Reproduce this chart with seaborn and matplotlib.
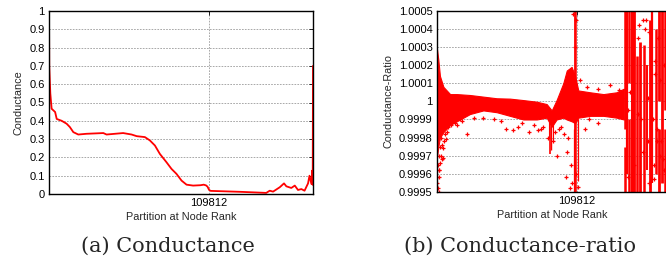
import numpy as np
import pandas as pd
import matplotlib
matplotlib.use('Agg')
import matplotlib.pyplot as plt
import seaborn as sns

# ---- data ----
N_TOTAL = 181200
TICK_RANK = 109812

# (a) conductance curve
cond_rank = [0, 180, 900, 1800, 4200, 5300, 8700, 12100, 14300, 16700, 20100, 25700,
             37300, 39500, 50900, 56700, 60200, 65800, 69200, 72700, 76100, 80600,
             84100, 87500, 91000, 94400, 98900, 104000, 106200, 107800, 108800, 109900,
             111000, 131000, 149100, 151500, 153800, 158400, 161300, 162900, 166300,
             168700, 170900, 173200, 175400, 177800, 178800, 180100, 180700, 181000, 181200]
cond_val = [1.0, 0.695, 0.55, 0.466, 0.448, 0.41, 0.40, 0.384, 0.366, 0.338, 0.325, 0.329,
            0.333, 0.325, 0.333, 0.325, 0.316, 0.311, 0.293, 0.265, 0.219, 0.174,
            0.137, 0.11, 0.073, 0.051, 0.046, 0.048, 0.051, 0.047, 0.04, 0.022,
            0.017, 0.012, 0.006, 0.018, 0.013, 0.037, 0.058, 0.042, 0.033,
            0.046, 0.022, 0.027, 0.018, 0.058, 0.10, 0.055, 0.128, 0.05, 0.70]

# (b) conductance-ratio: dense core band (fraction of x range, upper, lower)
band_frac = [0.0, 0.007, 0.014, 0.029, 0.058, 0.087, 0.144, 0.202, 0.26, 0.317, 0.375,
             0.433, 0.476, 0.498, 0.519, 0.548, 0.563, 0.584, 0.599, 0.613, 0.664,
             0.722, 0.779, 0.81]
band_upper = [1.00030, 1.00023, 1.00014, 1.00008, 1.00004, 1.00004, 1.000035, 1.000026,
              1.000017, 1.000015, 1.000007, 0.999998, 0.999985, 0.99995, 1.000007,
              1.00010, 1.00017, 1.00019, 1.00014, 1.00006, 1.00005, 1.00004, 1.00005, 1.00007]
band_lower = [0.99968, 0.99975, 0.99980, 0.99983, 0.99987, 0.99989, 0.99993, 0.99995,
              0.99994, 0.99992, 0.99990, 0.99990, 0.99991, 0.99986, 0.99990, 0.99991,
              0.99990, 0.99989, 0.99988, 0.99991, 0.99992, 0.99992, 0.99991, 0.99990]

# vertical streaks of points (fraction, ymin, ymax, width in pt)
streak_frac = [0.484, 0.49, 0.496, 0.502, 0.593, 0.599, 0.605, 0.612,
               0.813, 0.813, 0.822, 0.832, 0.832, 0.845, 0.856, 0.867, 0.880,
               0.898, 0.910, 0.925, 0.932, 0.949, 0.962, 0.962, 0.975, 0.988, 0.988]
streak_lo = [0.99980, 0.99971, 0.99973, 0.99978, 0.9995, 0.9995, 0.9995, 0.99956,
             0.9995, 0.99985, 0.9996, 0.9995, 1.0001, 0.9995, 0.9995, 0.9995, 0.9995,
             0.9995, 0.99962, 0.9995, 0.99955, 0.9996, 0.9995, 1.0000, 0.99955, 0.9995, 0.99995]
streak_hi = [0.99990, 0.99990, 0.99990, 0.99990, 0.99985, 1.0005, 1.0005, 0.99990,
             0.99975, 1.0005, 1.0005, 0.9999, 1.0005, 1.0005, 1.0005, 1.00025, 1.00033,
             1.00031, 1.0002, 1.00045, 1.0005, 1.0004, 0.99985, 1.0005, 1.0005, 0.99985, 1.0005]
streak_w = [0.8, 1.2, 1.0, 0.8, 0.9, 1.3, 1.1, 0.9,
            1.8, 1.8, 1.6, 1.8, 1.8, 2.2, 2.0, 1.8, 2.0,
            1.8, 1.4, 2.0, 1.6, 1.8, 2.0, 2.0, 2.0, 1.8, 1.8]

# isolated '+' points (fraction, value)
pt_frac = [0.003, 0.006, 0.01, 0.004, 0.012, 0.008, 0.015, 0.02, 0.025, 0.018, 0.03,
           0.035, 0.045, 0.05, 0.06, 0.07, 0.08, 0.13, 0.10, 0.20, 0.25, 0.30, 0.33,
           0.37, 0.40, 0.42, 0.45, 0.48, 0.505, 0.51, 0.52, 0.53, 0.55, 0.565, 0.57,
           0.58, 0.585, 0.64, 0.66, 0.70, 0.62, 0.65, 0.70, 0.75, 0.79, 0.56, 0.575,
           0.59, 0.605, 0.61, 0.597, 0.603, 0.875, 0.915, 0.92, 0.94, 0.943, 0.955,
           0.985, 0.995, 0.83, 0.885, 0.905, 0.965, 0.002, 0.009, 0.016, 0.022, 0.04,
           0.027, 0.011, 0.028, 0.09, 0.11, 0.16, 0.28, 0.35, 0.44, 0.46, 0.54, 0.815,
           0.826, 0.838, 0.852, 0.872, 0.892, 0.903, 0.917, 0.938, 0.944, 0.953, 0.968,
           0.98, 0.993, 0.85, 0.87, 0.893, 0.914, 0.94, 0.957, 0.972, 0.982]
pt_val = [0.99955, 0.99952, 0.99958, 0.99965, 0.99962, 0.99970, 0.99975, 0.99970, 0.99968,
          0.99980, 0.99978, 0.99982, 0.99983, 0.99986, 0.99987, 0.99989, 0.99988, 0.99982,
          0.99990, 0.99991, 0.99990, 0.99985, 0.99984, 0.99988, 0.99983, 0.99987, 0.99985,
          0.99980, 0.99978, 0.99983, 0.99970, 0.99985, 0.99982, 0.99972, 0.99980, 0.99965,
          0.99955, 0.99985, 0.99990, 0.99988, 1.00012, 1.00008, 1.00007, 1.00009, 1.00006,
          0.99958, 0.99952, 1.00048, 1.00045, 0.99953, 1.0003, 0.99960, 1.00042, 0.99978,
          1.00038, 0.99965, 1.00022, 0.99985, 0.99962, 1.00028, 0.99958, 0.99990, 1.00045,
          0.99970, 0.99958, 0.99962, 0.99966, 0.99976, 0.99979, 0.99974, 0.99950, 0.99969,
          0.99987, 0.99989, 0.99991, 0.99989, 0.99986, 0.99984, 0.99986, 0.99986, 1.00002,
          0.99995, 1.00005, 0.99965, 1.00035, 0.99972, 1.00040, 0.99955, 0.99990, 1.00015,
          0.99978, 1.00012, 0.99968, 0.99960, 1.00010, 0.99993, 1.00045, 1.00002, 0.99957,
          1.00035, 0.99978, 1.00020]

cond_yticks = [0, 0.1, 0.2, 0.3, 0.4, 0.5, 0.6, 0.7, 0.8, 0.9, 1.0]
cond_ylabels = ['0', '0.1', '0.2', '0.3', '0.4', '0.5', '0.6', '0.7', '0.8', '0.9', '1']
ratio_yticks = [0.9995, 0.9996, 0.9997, 0.9998, 0.9999, 1.0, 1.0001, 1.0002, 1.0003, 1.0004, 1.0005]
ratio_ylabels = ['0.9995', '0.9996', '0.9997', '0.9998', '0.9999', '1',
                 '1.0001', '1.0002', '1.0003', '1.0004', '1.0005']

RED = '#ff0000'

sns.set_style('white')
plt.rcParams['font.family'] = ['Liberation Sans', 'DejaVu Sans']
plt.rcParams['font.size'] = 8


def style_axes(ax, yticks, ylabels, ylim, ylabel):
    ax.set_xlim(0, N_TOTAL)
    ax.set_ylim(*ylim)
    ax.set_xticks([TICK_RANK])
    ax.set_xticklabels([str(TICK_RANK)])
    ax.set_yticks(yticks)
    ax.set_yticklabels(ylabels)
    ax.tick_params(direction='in', length=3, width=0.6, pad=3, labelsize=8,
                   top=True, right=True, colors='black')
    ax.grid(True, color='#9a9a9a', linestyle=(0, (2, 1.5)), linewidth=0.6)
    ax.set_axisbelow(True)
    for sp in ax.spines.values():
        sp.set_color('black')
        sp.set_linewidth(1.0)
    ax.set_xlabel('Partition at Node Rank', fontsize=7.8, labelpad=3)
    ax.set_ylabel(ylabel, fontsize=7.8, labelpad=4)


fig = plt.figure(figsize=(6.66, 2.58), dpi=100)
ax1 = fig.add_axes([49 / 666, 64 / 258, 264 / 666, 183 / 258])
ax2 = fig.add_axes([436.7 / 666, 66 / 258, 231 / 666, 181.3 / 258])

# (a)
df_c = pd.DataFrame({'rank': cond_rank, 'cond': cond_val})
sns.lineplot(data=df_c, x='rank', y='cond', ax=ax1, color=RED, linewidth=1.3, sort=False)
style_axes(ax1, cond_yticks, cond_ylabels, (0, 1), 'Conductance')

# (b)
band_x = np.array(band_frac) * N_TOTAL
ax2.fill_between(band_x, band_lower, band_upper, color=RED, linewidth=0.8, edgecolor=RED)
ax2.vlines(np.array(streak_frac) * N_TOTAL, streak_lo, streak_hi, colors=RED,
           linewidths=streak_w)
df_p = pd.DataFrame({'rank': np.array(pt_frac) * N_TOTAL, 'ratio': pt_val})
sns.scatterplot(data=df_p, x='rank', y='ratio', ax=ax2, marker='+', color=RED,
                s=12, linewidth=0.9, clip_on=True)
style_axes(ax2, ratio_yticks, ratio_ylabels, (0.9995, 1.0005), 'Conductance-Ratio')

fig.text(168 / 666, 1 - 246 / 258, '(a) Conductance', ha='center', va='center',
         family='DejaVu Serif', fontsize=15)
fig.text(520 / 666, 1 - 246 / 258, '(b) Conductance-ratio', ha='center', va='center',
         family='DejaVu Serif', fontsize=15)

fig.savefig('out.png', dpi=100)
